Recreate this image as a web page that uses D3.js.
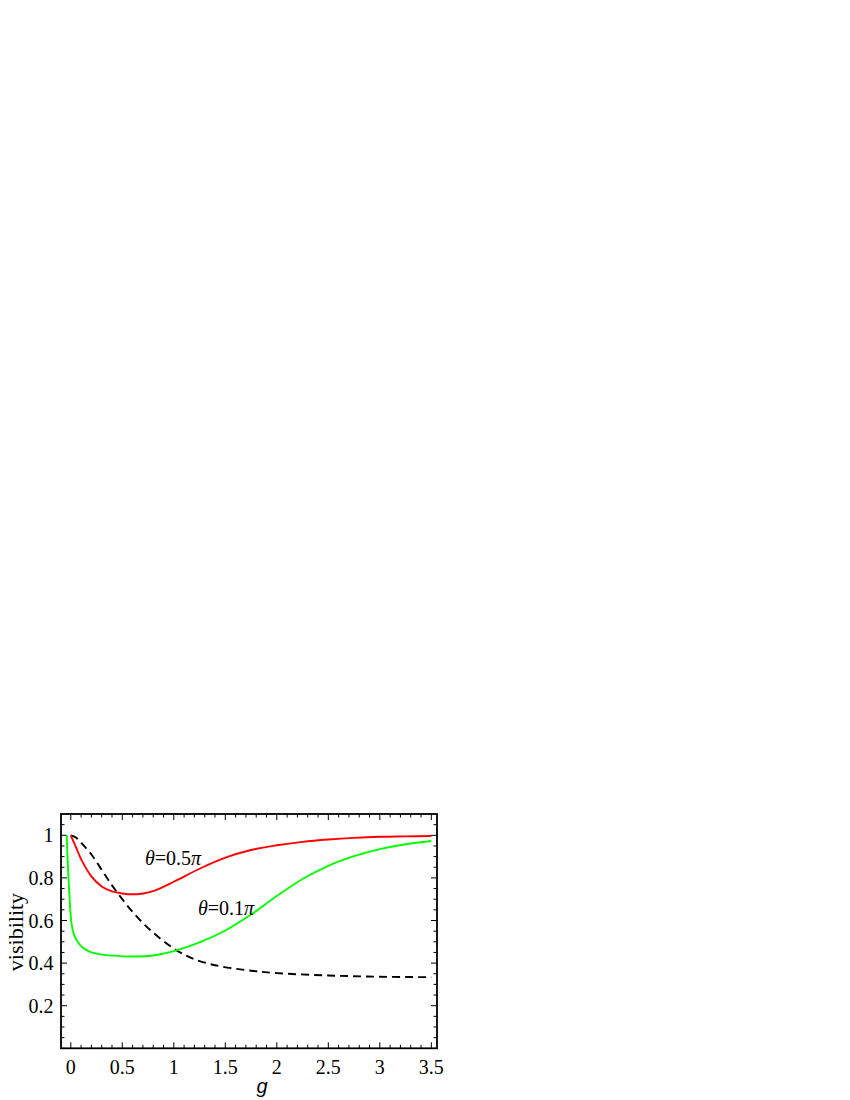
<!DOCTYPE html>
<html>
<head>
<meta charset="utf-8">
<script src="https://cdn.jsdelivr.net/npm/d3@7"></script>
<style>
  body { margin: 0; background: #fff; }
  svg { display: block; }
</style>
</head>
<body>
<div id="chart"></div>
<script>
// values
const gRed   = [0, 0.05, 0.1, 0.2, 0.3, 0.4, 0.5, 0.6, 0.7, 0.8, 1.0, 1.25, 1.5, 1.75, 2.0, 2.25, 2.5, 2.75, 3.0, 3.25, 3.5];
const visRed = [1.0, 0.945, 0.888, 0.807, 0.76, 0.737, 0.727, 0.723, 0.727, 0.738, 0.782, 0.843, 0.895, 0.931, 0.953, 0.969, 0.98, 0.988, 0.993, 0.995, 0.997];

const gGreen   = [-0.04, -0.03, -0.02, -0.01, 0, 0.01, 0.03, 0.06, 0.1, 0.15, 0.2, 0.3, 0.4, 0.6, 0.8, 0.9, 1.0, 1.25, 1.5, 1.75, 2.0, 2.25, 2.5, 2.75, 3.0, 3.25, 3.5];
const visGreen = [1.0, 0.88, 0.78, 0.69, 0.62, 0.578, 0.535, 0.505, 0.48, 0.462, 0.45, 0.44, 0.435, 0.431, 0.436, 0.445, 0.456, 0.497, 0.553, 0.628, 0.715, 0.795, 0.857, 0.902, 0.935, 0.958, 0.973];

const gDash   = [0, 0.05, 0.1, 0.2, 0.3, 0.4, 0.5, 0.6, 0.7, 0.8, 0.9, 1.0, 1.1, 1.2, 1.4, 1.7, 2.0, 2.5, 3.0, 3.5];
const visDash = [1.0, 0.99, 0.965, 0.91, 0.838, 0.765, 0.7, 0.64, 0.588, 0.543, 0.503, 0.468, 0.44, 0.418, 0.39, 0.367, 0.353, 0.342, 0.336, 0.334];

const xMajor = [0, 0.5, 1, 1.5, 2, 2.5, 3, 3.5];
const xLabels = ["0", "0.5", "1", "1.5", "2", "2.5", "3", "3.5"];
const yMajor = [0.2, 0.4, 0.6, 0.8, 1];
const yLabels = ["0.2", "0.4", "0.6", "0.8", "1"];

const serif = "'Liberation Serif', 'Times New Roman', serif";

const svg = d3.select("#chart").append("svg")
    .attr("width", 850)
    .attr("height", 1100);

const x = d3.scaleLinear().domain([-0.095, 3.555]).range([61, 437]);
const y = d3.scaleLinear().domain([0, 1.1]).range([1048.3, 814]);

const [x0, x1] = x.range();
const [y0, y1] = y.range();

// minor ticks
const xMinor = d3.range(1, 36).map(i => i / 10).filter(v => !xMajor.some(m => Math.abs(m - v) < 1e-6));
const yMinor = d3.range(1, 22).map(i => i / 20).filter(v => !yMajor.some(m => Math.abs(m - v) < 1e-6));

const ticks = svg.append("g").attr("stroke", "#000").attr("stroke-width", 1);

function vTicks(vals, len) {
    ticks.selectAll(null).data(vals).enter().append("line")
        .attr("x1", d => x(d)).attr("x2", d => x(d))
        .attr("y1", y0).attr("y2", y0 - len);
    ticks.selectAll(null).data(vals).enter().append("line")
        .attr("x1", d => x(d)).attr("x2", d => x(d))
        .attr("y1", y1).attr("y2", y1 + len);
}
function hTicks(vals, len) {
    ticks.selectAll(null).data(vals).enter().append("line")
        .attr("y1", d => y(d)).attr("y2", d => y(d))
        .attr("x1", x0).attr("x2", x0 + len);
    ticks.selectAll(null).data(vals).enter().append("line")
        .attr("y1", d => y(d)).attr("y2", d => y(d))
        .attr("x1", x1).attr("x2", x1 - len);
}
vTicks(xMajor, 6);
vTicks(xMinor, 3.5);
hTicks(yMajor, 6);
hTicks(yMinor, 3.5);

// tick labels
svg.append("g").selectAll("text").data(xMajor).enter().append("text")
    .attr("x", d => x(d))
    .attr("y", 1073.5)
    .attr("text-anchor", "middle")
    .style("font-family", serif)
    .style("font-size", "20px")
    .text((d, i) => xLabels[i]);

svg.append("g").selectAll("text").data(yMajor).enter().append("text")
    .attr("x", 53.5)
    .attr("y", d => y(d) + 7)
    .attr("text-anchor", "end")
    .style("font-family", serif)
    .style("font-size", "20px")
    .text((d, i) => yLabels[i]);

// curves
const line = d3.line()
    .x(d => x(d[0]))
    .y(d => y(d[1]))
    .curve(d3.curveCatmullRom.alpha(0.5));

const series = [
    { g: gDash, v: visDash, color: "#000", dash: "8,5" },
    { g: gGreen, v: visGreen, color: "#00ff00", dash: null },
    { g: gRed, v: visRed, color: "#ff0000", dash: null }
];

svg.append("g").selectAll("path").data(series).enter().append("path")
    .attr("d", s => line(s.g.map((g, i) => [g, s.v[i]])))
    .attr("fill", "none")
    .attr("stroke", s => s.color)
    .attr("stroke-width", 1.9)
    .attr("stroke-dasharray", s => s.dash);

// frame
svg.append("rect")
    .attr("x", x0).attr("y", y1)
    .attr("width", x1 - x0).attr("height", y0 - y1)
    .attr("fill", "none")
    .attr("stroke", "#000")
    .attr("stroke-width", 1.8);

// annotations
function annotate(px, py, val) {
    const t = svg.append("text")
        .attr("x", px).attr("y", py)
        .style("font-family", serif)
        .style("font-size", "20px");
    t.append("tspan").style("font-style", "italic").text("θ");
    t.append("tspan").text("=" + val);
    t.append("tspan").style("font-style", "italic").text("π");
}
annotate(145, 865, "0.5");
annotate(198, 915, "0.1");

// axis titles
svg.append("text")
    .attr("x", 262).attr("y", 1092.5)
    .attr("text-anchor", "middle")
    .style("font-family", "'Liberation Sans', Arial, sans-serif")
    .style("font-style", "italic")
    .style("font-size", "20px")
    .text("g");

svg.append("text")
    .attr("transform", "translate(22.5,932) rotate(-90)")
    .attr("text-anchor", "middle")
    .style("font-family", serif)
    .style("font-size", "22px")
    .text("visibility");
</script>
</body>
</html>
